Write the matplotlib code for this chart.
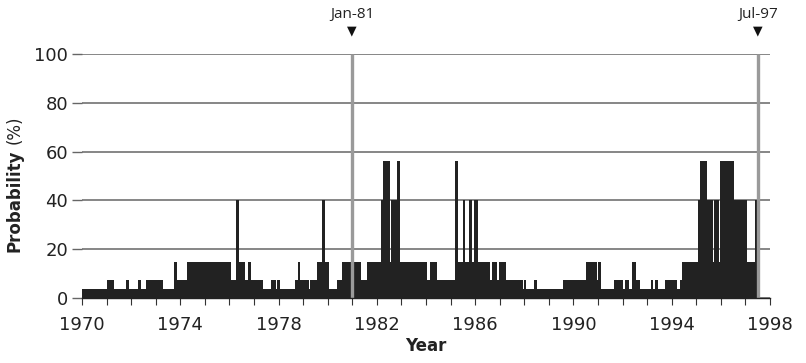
import numpy as np
import matplotlib
matplotlib.use("Agg")
import matplotlib.pyplot as plt
from matplotlib.ticker import MultipleLocator, FixedLocator

# step series: start of each run (decimal year) and its level (%)
starts = [1970.00, 1971.03, 1971.30, 1971.78, 1971.90, 1972.27, 1972.39, 1972.59,
          1973.31, 1973.74, 1973.88, 1974.26, 1976.05, 1976.27, 1976.38, 1976.62,
          1976.77, 1976.86, 1977.38, 1977.68, 1977.88, 1977.92, 1978.06, 1978.67,
          1978.78, 1978.87, 1979.23, 1979.28, 1979.58, 1979.76, 1979.89, 1980.04,
          1980.37, 1980.57, 1981.35, 1981.59, 1982.17, 1982.26, 1982.54, 1982.58,
          1982.84, 1982.94, 1984.03, 1984.16, 1984.46, 1985.18, 1985.29, 1985.52,
          1985.60, 1985.75, 1985.86, 1985.97, 1986.10, 1986.61, 1986.67, 1986.90,
          1986.96, 1987.26, 1987.96, 1988.00, 1988.07, 1988.41, 1988.51, 1989.59,
          1990.51, 1990.95, 1991.01, 1991.11, 1991.65, 1992.03, 1992.10, 1992.27,
          1992.40, 1992.55, 1992.71, 1993.16, 1993.25, 1993.32, 1993.46, 1993.73,
          1994.20, 1994.34, 1994.41, 1995.08, 1995.15, 1995.45, 1995.69, 1995.73,
          1995.94, 1995.98, 1996.54, 1997.08, 1997.40]
levels = [3.7, 7.4, 3.7, 7.4, 3.7, 7.4, 3.7, 7.4,
          3.7, 14.8, 7.4, 14.8, 7.4, 40, 14.8, 7.4,
          14.8, 7.4, 3.7, 7.4, 3.7, 7.4, 3.7, 7.4,
          14.8, 7.4, 3.7, 7.4, 14.8, 40, 14.8, 3.7,
          7.4, 14.8, 7.4, 14.8, 40, 56, 14.8, 40,
          56, 14.8, 7.4, 14.8, 7.4, 56, 14.8, 40,
          14.8, 40, 14.8, 40, 14.8, 7.4, 14.8, 7.4,
          14.8, 7.4, 3.7, 7.4, 3.7, 7.4, 3.7, 7.4,
          14.8, 7.4, 14.8, 3.7, 7.4, 3.7, 7.4, 3.7,
          14.8, 7.4, 3.7, 7.4, 3.7, 7.4, 3.7, 7.4,
          3.7, 7.4, 14.8, 40, 56, 40, 14.8, 40,
          14.8, 56, 40, 14.8, 40]
end_year = 1997.5

year_ticks = list(range(1970, 1999, 4))
markers_x = [1981.0, 1997.5]
markers_lbl = ["Jan-81", "Jul-97"]

fig = plt.figure(figsize=(8.06, 3.63), dpi=100)
ax = fig.add_axes([0.1017, 0.179, 0.8536, 0.672])

edges = np.array(starts + [end_year])
ax.stairs(levels, edges, fill=True, color="#222222", lw=0, zorder=2)

for x, lbl in zip(markers_x, markers_lbl):
    ax.plot([x, x], [0, 100], color="#9a9a9a", lw=2.4, zorder=3, solid_capstyle="butt")
    ax.text(x, 109.5, "\u25BC", ha="center", va="center", fontsize=9, color="#111111", clip_on=False)
    ax.text(x, 113.3, lbl, ha="center", va="bottom", fontsize=11, color="#222222",
            family="Open Sans", clip_on=False)

ax.set_xlim(1970, 1998)
ax.set_ylim(0, 100)
ax.xaxis.set_major_locator(FixedLocator(year_ticks))
ax.xaxis.set_minor_locator(MultipleLocator(1))
ax.yaxis.set_major_locator(MultipleLocator(20))
ax.grid(axis="y", color="#666666", lw=1.1, zorder=1)
ax.set_axisbelow(True)

for s in ["top", "right", "left"]:
    ax.spines[s].set_visible(False)
ax.spines["bottom"].set_color("#222222")
ax.spines["bottom"].set_linewidth(1.0)
ax.spines["bottom"].set_zorder(4)

ax.tick_params(axis="x", which="both", length=5, width=0.8, color="#333333",
               labelsize=13, labelcolor="#222222", pad=8)
ax.tick_params(axis="y", length=7, width=1.0, color="#666666",
               labelsize=13, labelcolor="#222222", pad=3)

ax.set_xlabel("Year", fontsize=12, fontweight="bold", color="#222222", labelpad=2)
fig.text(0.018, 0.447, "Probability", rotation=90, ha="center", va="center",
         fontsize=12, fontweight="bold", color="#222222")
fig.text(0.018, 0.642, "(%)", rotation=90, ha="center", va="center",
         fontsize=12, color="#222222")

fig.savefig("out.png", dpi=100)
